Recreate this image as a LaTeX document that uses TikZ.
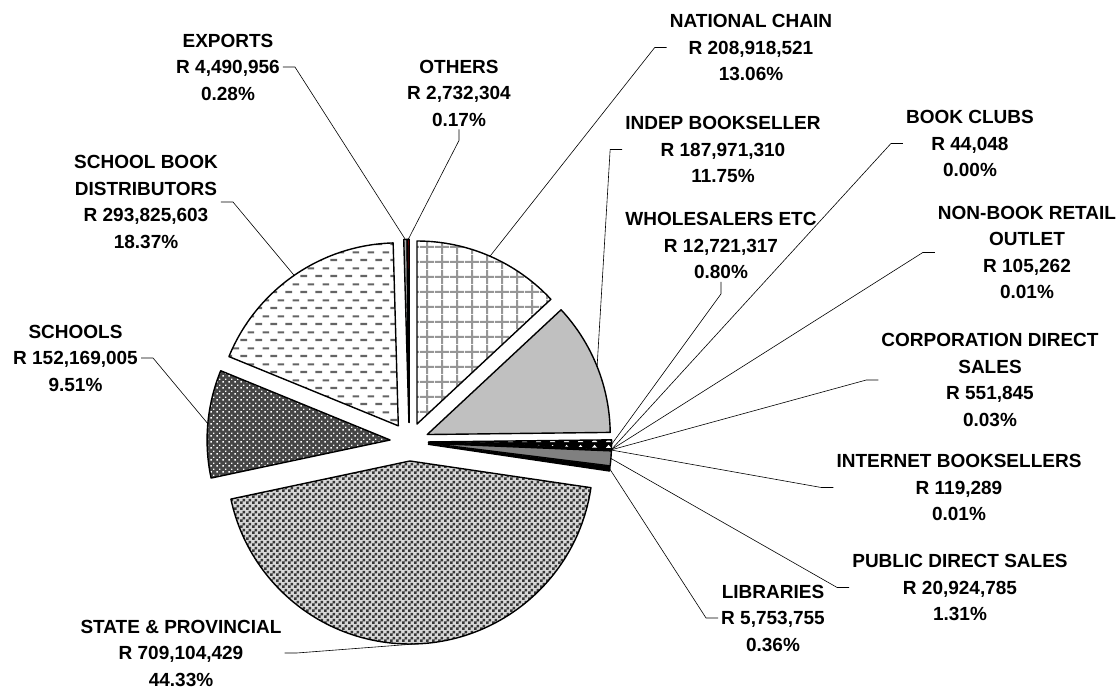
\documentclass[tikz,border=0pt]{standalone}
\usepackage{fontspec}
\setmainfont{Liberation Sans}
\usetikzlibrary{calc}
\usetikzlibrary{patterns}

\definecolor{gridgray}{RGB}{150,150,150}
\definecolor{dashgray}{RGB}{100,100,100}
\definecolor{indepgray}{RGB}{192,192,192}
\definecolor{pubgray}{RGB}{128,128,128}
\definecolor{checkgray}{RGB}{55,55,55}
\definecolor{checklight}{RGB}{215,215,215}
\definecolor{schoolgray}{RGB}{70,70,70}
\definecolor{exportgray}{RGB}{170,170,170}
\definecolor{otherred}{RGB}{150,0,0}

% fill patterns of the slices
\pgfdeclarepatternformonly{natgrid}{\pgfpointorigin}{\pgfqpoint{15pt}{15pt}}{\pgfqpoint{15pt}{15pt}}{%
  \pgfpathrectangle{\pgfqpoint{6.5pt}{0pt}}{\pgfqpoint{2pt}{15pt}}%
  \pgfpathrectangle{\pgfqpoint{0pt}{6.5pt}}{\pgfqpoint{15pt}{2pt}}%
  \pgfusepath{fill}}
\pgfdeclarepatternformonly{sbddash}{\pgfpointorigin}{\pgfqpoint{15pt}{15.6pt}}{\pgfqpoint{15pt}{15.6pt}}{%
  \pgfpathrectangle{\pgfqpoint{0.5pt}{3pt}}{\pgfqpoint{7pt}{2.2pt}}%
  \pgfpathrectangle{\pgfqpoint{8pt}{10.8pt}}{\pgfqpoint{7pt}{2.2pt}}%
  \pgfusepath{fill}}
\pgfdeclarepatternformonly{stateck}{\pgfpointorigin}{\pgfqpoint{6pt}{6pt}}{\pgfqpoint{6pt}{6pt}}{%
  \pgfpathrectangle{\pgfpointorigin}{\pgfqpoint{3pt}{3pt}}%
  \pgfpathrectangle{\pgfqpoint{3pt}{3pt}}{\pgfqpoint{3pt}{3pt}}%
  \pgfusepath{fill}}
\pgfdeclarepatternformonly{schooldots}{\pgfpointorigin}{\pgfqpoint{6pt}{6pt}}{\pgfqpoint{6pt}{6pt}}{%
  \pgfpathrectangle{\pgfqpoint{0.5pt}{0.5pt}}{\pgfqpoint{1.6pt}{1.6pt}}%
  \pgfpathrectangle{\pgfqpoint{3.5pt}{3.5pt}}{\pgfqpoint{1.6pt}{1.6pt}}%
  \pgfusepath{fill}}
\pgfdeclarepatternformonly{bellrow}{\pgfpointorigin}{\pgfqpoint{14pt}{6pt}}{\pgfqpoint{14pt}{6pt}}{%
  \pgfpathmoveto{\pgfqpoint{4pt}{1pt}}%
  \pgfpathlineto{\pgfqpoint{10pt}{1pt}}%
  \pgfpathlineto{\pgfqpoint{7pt}{4.5pt}}%
  \pgfpathclose
  \pgfusepath{fill}}

% one exploded slice: start angle, end angle, fill, name of its leader tip
\newcommand{\pieslice}[4]{%
  \pgfmathsetmacro{\midang}{(#1+#2)/2}
  \draw[piewedge,#3] ($(C)+(\midang:\Dex)$) -- ++(#1:\Rad)
    arc[start angle=#1, end angle=#2, radius=\Rad] -- cycle;
  \coordinate (#4) at ($(C)+(\midang:\Rtip)$);
}

\begin{document}
\begin{tikzpicture}[x=1pt, y=-1pt,
    piewedge/.style={draw=black, line width=1.4pt, line join=round},
    lbl/.style={align=center, inner sep=3pt,
      font=\bfseries\fontsize{19}{26.5}\selectfont},
    leader/.style={draw=black, line width=0.6pt}]

\useasboundingbox (0,0) rectangle (1120,689);

%---------------------------------------
% Pie geometry (pixel frame, y down)
%---------------------------------------
\coordinate (C) at (409.3,441.7);
\def\Rad{183}
\def\Dex{19.3}
\def\Rtip{202.3}

% slices, clockwise from 12 o'clock
\pieslice{-90}{-42.977}{preaction={fill=white}, pattern=natgrid, pattern color=gridgray}{natchain}
\pieslice{-42.977}{-0.668}{fill=indepgray}{indep}
\pieslice{-0.668}{2.195}{preaction={fill=black}, pattern=bellrow, pattern color=white}{whsale}
\pieslice{2.195}{2.205}{fill=white}{bkclub}
\pieslice{2.205}{2.229}{fill=white}{nonbook}
\pieslice{2.229}{2.353}{fill=white}{corp}
\pieslice{2.353}{2.380}{fill=white}{inet}
\pieslice{2.380}{7.090}{fill=pubgray}{pubdir}
\pieslice{7.090}{8.385}{fill=black}{libr}
\pieslice{8.385}{167.990}{preaction={fill=checklight}, pattern=stateck, pattern color=checkgray}{state}
\pieslice{167.990}{202.240}{preaction={fill=schoolgray}, pattern=schooldots, pattern color=white}{school}
\pieslice{202.240}{268.374}{preaction={fill=white}, pattern=sbddash, pattern color=dashgray}{sbd}
\pieslice{268.374}{269.385}{fill=exportgray}{export}
\pieslice{269.385}{270}{fill=otherred}{other}

%---------------------------------------
% Data labels
%---------------------------------------
\node[lbl] (natchain-lab) at (751,47.5) {NATIONAL CHAIN\\R 208,918,521\\13.06\%};
\node[lbl] (indep-lab) at (723,149.5) {INDEP BOOKSELLER\\R 187,971,310\\11.75\%};
\node[lbl] (whsale-lab) at (721,245.5) {WHOLESALERS ETC\\R 12,721,317\\0.80\%};
\node[lbl] (bkclub-lab) at (970,143.5) {BOOK CLUBS\\R 44,048\\0.00\%};
\node[lbl] (nonbook-lab) at (1027,252.5) {NON-BOOK RETAIL\\OUTLET\\R 105,262\\0.01\%};
\node[lbl] (corp-lab) at (990,380) {CORPORATION DIRECT\\SALES\\R 551,845\\0.03\%};
\node[lbl] (inet-lab) at (959,487.5) {INTERNET BOOKSELLERS\\R 119,289\\0.01\%};
\node[lbl] (pubdir-lab) at (960,587.5) {PUBLIC DIRECT SALES\\R 20,924,785\\1.31\%};
\node[lbl] (libr-lab) at (773,618) {LIBRARIES\\R 5,753,755\\0.36\%};
\node[lbl] (state-lab) at (181,653) {STATE \& PROVINCIAL\\R 709,104,429\\44.33\%};
\node[lbl] (school-lab) at (75.5,358) {SCHOOLS\\R 152,169,005\\9.51\%};
\node[lbl] (sbd-lab) at (146,202) {SCHOOL BOOK\\DISTRIBUTORS\\R 293,825,603\\18.37\%};
\node[lbl] (export-lab) at (228,67) {EXPORTS\\R 4,490,956\\0.28\%};
\node[lbl] (other-lab) at (459,93) {OTHERS\\R 2,732,304\\0.17\%};

% leader lines
\draw[leader] (natchain-lab.west) -- ++(-12,0) -- (natchain);
\draw[leader] (indep-lab.west) -- ++(-12,0) -- (indep);
\draw[leader] (whsale-lab.south) -- ++(0,12) -- (whsale);
\draw[leader] (bkclub-lab.west) -- ++(-12,0) -- (bkclub);
\draw[leader] (nonbook-lab.west) -- ++(-12,0) -- (nonbook);
\draw[leader] (corp-lab.west) -- ++(-12,0) -- (corp);
\draw[leader] (inet-lab.west) -- ++(-12,0) -- (inet);
\draw[leader] (pubdir-lab.west) -- ++(-12,0) -- (pubdir);
\draw[leader] (libr-lab.west) -- ++(-12,0) -- (libr);
\draw[leader] (state-lab.east) -- ++(12,0) -- (state);
\draw[leader] (school-lab.east) -- ++(12,0) -- (school);
\draw[leader] (sbd-lab.east) -- ++(12,0) -- (sbd);
\draw[leader] (export-lab.east) -- ++(12,0) -- (export);
\draw[leader] (other-lab.south) -- ++(0,11) -- (other);

\end{tikzpicture}
\end{document}
